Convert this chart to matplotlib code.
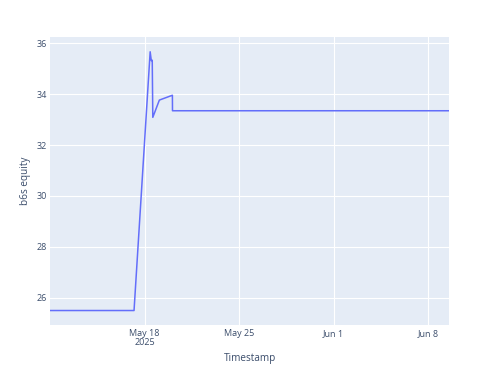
import matplotlib
matplotlib.use("Agg")
import matplotlib.pyplot as plt
import pandas as pd

# Data
timestamps = [
    "2025-05-11 00:00", "2025-05-17 05:20", "2025-05-18 10:00", "2025-05-18 12:00",
    "2025-05-18 13:40", "2025-05-18 14:40", "2025-05-19 02:20", "2025-05-20 01:30",
    "2025-05-20 01:40", "2025-06-09 13:00",
]
equity = [25.49, 25.49, 35.67, 35.32, 35.34, 33.09, 33.77, 33.96, 33.35, 33.35]

x_tick_dates = ["2025-05-18", "2025-05-25", "2025-06-01", "2025-06-08"]
x_tick_labels = ["May 18\n2025", "May 25", "Jun 1", "Jun 8"]
y_ticks = [26, 28, 30, 32, 34, 36]

TEXT = "#3b4d6b"
plt.rcParams["font.family"] = ["Open Sans", "DejaVu Sans"]

fig = plt.figure(figsize=(5, 3.75), dpi=100)
ax = fig.add_axes([50 / 500, 1 - 324.5 / 375, 399 / 500, (324.5 - 37.3) / 375])
ax.set_facecolor("#E5ECF6")

t = pd.to_datetime(timestamps)
ax.plot(t, equity, color="#636EFA", lw=1.1, zorder=3)

ax.set_xlim(t[0], t[-1])
ax.set_ylim(24.94, 36.24)

ax.set_xticks(pd.to_datetime(x_tick_dates))
ax.set_xticklabels(x_tick_labels, linespacing=1.05)
ax.set_yticks(y_ticks)
ax.set_yticklabels([str(v) for v in y_ticks])

ax.grid(True, color="white", lw=0.8)
ax.set_axisbelow(True)
for s in ax.spines.values():
    s.set_visible(False)
ax.tick_params(axis="both", length=0, labelsize=6.5, colors=TEXT)
ax.tick_params(axis="y", pad=2)
ax.tick_params(axis="x", pad=3)

ax.set_xlabel("Timestamp", fontsize=7.2, color=TEXT, labelpad=4)
ax.set_ylabel("b6s equity", fontsize=7.2, color=TEXT, labelpad=4)

fig.savefig("out.png", dpi=100, facecolor="white")
